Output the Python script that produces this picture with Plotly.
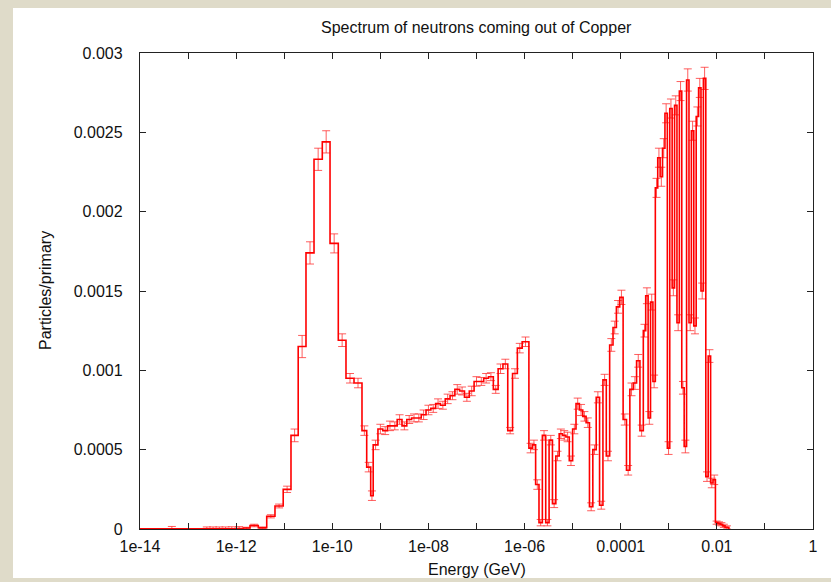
import plotly.graph_objects as go

# ---------------- data (log10 of energy in GeV for bin edges) ----------------
edges_low = [-14.0, -12.675, -12.545, -12.415, -12.285, -12.155, -12.025, -11.851,
             -11.712, -11.539, -11.364, -11.192, -11.021, -10.859, -10.709, -10.547,
             -10.380, -10.208, -10.047, -9.875, -9.715, -9.548, -9.382, -9.284,
             -9.201, -9.149, -9.05]
vals_low = [1e-6, 1e-6, 1e-6, 1e-6, 1e-6, 2e-6, 3e-6, 0.000006, 0.000022, 0.000008,
            0.00008, 0.000145, 0.00025, 0.00059, 0.00115, 0.00174, 0.00233, 0.00244,
            0.0018, 0.00119, 0.00095, 0.00092, 0.00062, 0.00039, 0.00021, 0.00053]
errs_low = [1.5e-5, 1.2e-5, 1.2e-5, 1.2e-5, 1.2e-5, 1.2e-5, 1.2e-5, 5e-6, 8e-6, 5e-6,
            1e-5, 1.2e-5, 2e-5, 4e-5, 7e-5, 7e-5, 7e-5, 7e-5, 6e-5, 4e-5, 3e-5, 3e-5,
            3e-5, 3e-5, 3e-5, 3e-5]

edges_mid = [-8.95, -8.85, -8.75, -8.65, -8.55, -8.45, -8.35, -8.25, -8.15, -8.05,
             -7.95, -7.85, -7.75, -7.65, -7.55, -7.45, -7.35, -7.25, -7.15, -7.05,
             -6.95, -6.85, -6.75, -6.65, -6.55, -6.45, -6.35, -6.25, -6.15, -6.05, -5.91]
vals_mid = [0.00063, 0.00062, 0.00065, 0.00065, 0.00069, 0.00065, 0.00069, 0.0007,
            0.0007, 0.00072, 0.00075, 0.00076, 0.00079, 0.00078, 0.00082, 0.00084,
            0.00088, 0.00087, 0.00083, 0.00087, 0.00093, 0.00093, 0.00095, 0.00096,
            0.00088, 0.00101, 0.00104, 0.00062, 0.00098, 0.00114, 0.00118]
errs_mid = [3e-5, 2.5e-5, 3e-5, 2.5e-5, 3e-5, 2.5e-5, 2.5e-5, 2.5e-5, 2.5e-5, 3e-5,
            3e-5, 2.5e-5, 3e-5, 2.5e-5, 3e-5, 2.5e-5, 3e-5, 2.5e-5, 2.5e-5, 3e-5,
            3e-5, 2.5e-5, 3e-5, 2.5e-5, 2.5e-5, 3e-5, 3e-5, 2e-5, 3e-5, 3e-5, 3e-5]

edges_res = [-5.84, -5.77, -5.70, -5.63, -5.56, -5.49, -5.42, -5.35, -5.28, -5.21,
             -5.14, -5.07, -5.00, -4.93, -4.86, -4.79, -4.72, -4.65, -4.58, -4.51,
             -4.44, -4.37, -4.30, -4.23, -4.16, -4.09, -4.02, -3.95, -3.88, -3.81,
             -3.74, -3.67, -3.60, -3.53]
vals_res = [0.00051, 0.00053, 0.00028, 0.00004, 0.00059, 0.00004, 0.00056, 0.00016,
            0.00046, 0.0006, 0.00059, 0.00058, 0.00043, 0.00063, 0.00079, 0.00075,
            0.00071, 0.00067, 0.00014, 0.0005, 0.00083, 0.00015, 0.00094, 0.00046,
            0.00116, 0.00127, 0.0014, 0.00146, 0.00069, 0.00037, 0.00088, 0.00092,
            0.00106, 0.00062]
errs_res = [3e-5, 3e-5, 3e-5, 2e-5, 3e-5, 2e-5, 3e-5, 2.5e-5, 3e-5, 3e-5, 3e-5, 3e-5,
            3e-5, 3e-5, 3.5e-5, 3.5e-5, 3e-5, 3e-5, 2.5e-5, 3e-5, 3.5e-5, 2.5e-5, 3.5e-5,
            3e-5, 4e-5, 4e-5, 4e-5, 4.5e-5, 3.5e-5, 3e-5, 4e-5, 4e-5, 4e-5, 3.5e-5]

edges_high = [-3.48, -3.43, -3.38, -3.33, -3.28, -3.23, -3.18, -3.13, -3.08, -3.03,
              -2.98, -2.93, -2.88, -2.83, -2.78, -2.73, -2.68, -2.63, -2.58, -2.53,
              -2.48, -2.43, -2.38, -2.33, -2.28, -2.23, -2.18, -2.13, -2.08, -2.03,
              -1.98, -1.93, -1.88, -1.83, -1.75]
vals_high = [0.00125, 0.00147, 0.0007, 0.00143, 0.00093, 0.00215, 0.00234, 0.00222,
             0.0024, 0.00262, 0.00051, 0.00265, 0.00152, 0.00267, 0.0013, 0.00276,
             0.00089, 0.00052, 0.00283, 0.0013, 0.00251, 0.00128, 0.0026, 0.00278,
             0.0015, 0.00284, 0.00033, 0.00109, 0.00029, 0.00031, 0.00004, 0.000035,
             0.00003, 0.00002, 0.00001]
errs_high = [4e-5, 5e-5, 4e-5, 5e-5, 4e-5, 6e-5, 6e-5, 6e-5, 6e-5, 6e-5, 4e-5, 6e-5,
             5e-5, 6e-5, 5e-5, 6e-5, 4e-5, 4e-5, 7e-5, 5e-5, 6e-5, 5e-5, 6e-5, 6e-5,
             5e-5, 7e-5, 3e-5, 4e-5, 3e-5, 3e-5, 1e-5, 1e-5, 1e-5, 1e-5, 1e-5]

x_tick_exponents = list(range(-14, 1))
x_tick_labels = ["1e-14", "", "1e-12", "", "1e-10", "", "1e-08", "", "1e-06", "",
                 "0.0001", "", "0.01", "", "1"]
y_tick_vals = [0, 0.0005, 0.001, 0.0015, 0.002, 0.0025, 0.003]
y_tick_labels = ["0", "0.0005", "0.001", "0.0015", "0.002", "0.0025", "0.003"]

title_text = "Spectrum of neutrons coming out of Copper"
x_title = "Energy (GeV)"
y_title = "Particles/primary"

# ---------------- assemble ----------------
log_edges = edges_low + edges_mid + edges_res + edges_high
values = vals_low + vals_mid + vals_res + vals_high
errors = errs_low + errs_mid + errs_res + errs_high
assert len(log_edges) == len(values) + 1 == len(errors) + 1

edges = [10 ** e for e in log_edges]
centers = [10 ** ((log_edges[i] + log_edges[i + 1]) / 2) for i in range(len(values))]

# histogram steps: rise at first edge, one level per bin, drop at last edge
step_x = [edges[0]] + edges + [edges[-1]]
step_y = [0] + values + [values[-1], 0]

FONT = "Liberation Sans, Arial, Helvetica, sans-serif"
RED = "#ff0000"

fig = go.Figure()
fig.add_trace(go.Scatter(
    x=centers, y=values, mode="markers",
    marker=dict(size=1, color="rgba(255,0,0,0)"),
    error_y=dict(type="data", array=errors, visible=True,
                 color="rgba(255,40,40,0.75)", thickness=1, width=4),
    hoverinfo="skip", showlegend=False,
))
fig.add_trace(go.Scatter(
    x=step_x, y=step_y, mode="lines", line=dict(color=RED, width=1.6, shape="hv"),
    showlegend=False,
))

W, H = 831, 582
L, R, T, B = 140, 18, 53, 53
pw, ph = W - L - R, H - T - B

def px_to_paper_x(px):
    return (px - L) / pw

def px_to_paper_y(py):
    return (H - B - py) / ph

fig.update_layout(
    width=W, height=H,
    margin=dict(l=L, r=R, t=T, b=B, pad=0),
    paper_bgcolor="#dfdbc9",
    plot_bgcolor="white",
    font=dict(family=FONT, size=16, color="#111111"),
    showlegend=False,
    shapes=[dict(type="rect", xref="paper", yref="paper", layer="below",
                 x0=px_to_paper_x(13), x1=px_to_paper_x(840),
                 y0=px_to_paper_y(578), y1=px_to_paper_y(8),
                 fillcolor="white", line=dict(width=0))],
    annotations=[
        dict(text=title_text, xref="paper", yref="paper",
             x=px_to_paper_x(476.5), y=px_to_paper_y(28), showarrow=False,
             xanchor="center", yanchor="middle", font=dict(size=16)),
        dict(text=x_title, xref="paper", yref="paper",
             x=px_to_paper_x(476.5), y=px_to_paper_y(569), showarrow=False,
             xanchor="center", yanchor="middle", font=dict(size=16)),
        dict(text=y_title, xref="paper", yref="paper", textangle=-90,
             x=px_to_paper_x(45), y=px_to_paper_y(291), showarrow=False,
             xanchor="center", yanchor="middle", font=dict(size=16)),
    ],
)
fig.update_xaxes(
    type="log", range=[-14, 0],
    tickvals=[10 ** e for e in x_tick_exponents], ticktext=x_tick_labels,
    ticks="inside", ticklen=6, tickwidth=1, tickcolor="#222",
    mirror="allticks", showline=True, linecolor="#222", linewidth=1.3,
    showgrid=False, zeroline=False, ticklabelstandoff=3,
    tickfont=dict(size=16),
)
fig.update_yaxes(
    range=[0, 0.003],
    tickvals=y_tick_vals, ticktext=y_tick_labels,
    ticks="inside", ticklen=6, tickwidth=1, tickcolor="#222",
    mirror="allticks", showline=True, linecolor="#222", linewidth=1.3,
    showgrid=False, zeroline=False, ticklabelstandoff=13,
    tickfont=dict(size=16),
)

fig.write_html("out.html")
